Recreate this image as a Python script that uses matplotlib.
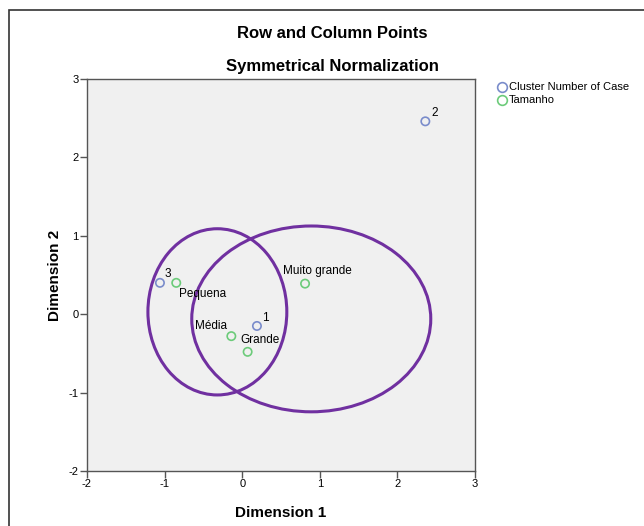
import matplotlib
matplotlib.use("Agg")
import matplotlib.pyplot as plt
from matplotlib.patches import Ellipse, Rectangle

# Data
cluster_labels = ["1", "2", "3"]
cluster_x = [0.19, 2.36, -1.06]
cluster_y = [-0.15, 2.46, 0.40]

size_labels = ["Pequena", "Média", "Grande", "Muito grande"]
size_x = [-0.85, -0.14, 0.07, 0.81]
size_y = [0.40, -0.28, -0.48, 0.39]

# ellipses: center x, center y, width, height
ell_cx = [-0.32, 0.89]
ell_cy = [0.03, -0.06]
ell_w = [1.79, 3.08]
ell_h = [2.12, 2.37]

xticks = [-2, -1, 0, 1, 2, 3]
yticks = [-2, -1, 0, 1, 2, 3]

plt.rcParams['font.family'] = ['Liberation Sans', 'DejaVu Sans']
plt.rcParams['axes.unicode_minus'] = False

W, H = 644, 526
fig = plt.figure(figsize=(W/100, H/100), dpi=100)
ax = fig.add_axes([87/W, (H-471)/H, (475-87)/W, (471-79)/H])
ax.set_facecolor('#F0F0F0')
ax.set_xlim(-2, 3)
ax.set_ylim(-2, 3)
ax.set_xticks(xticks)
ax.set_yticks(yticks)
ax.tick_params(direction='out', length=5, width=1, labelsize=8, color='#555555', pad=1)
for s in ax.spines.values():
    s.set_color('#555555')
    s.set_linewidth(1)

blue = '#7A8CCB'
green = '#6CCB7A'
ax.scatter(cluster_x, cluster_y, s=36, facecolors='none', edgecolors=blue, linewidths=1.2, zorder=3)
ax.scatter(size_x, size_y, s=36, facecolors='none', edgecolors=green, linewidths=1.2, zorder=3)

for cx, cy, w, h in zip(ell_cx, ell_cy, ell_w, ell_h):
    ax.add_patch(Ellipse((cx, cy), w, h, fill=False, edgecolor='#7030A0', linewidth=2.2, zorder=2))

num_offsets = {"1": (5, 8), "2": (6, 8), "3": (5, 9)}
for lab, x, y in zip(cluster_labels, cluster_x, cluster_y):
    ax.annotate(lab, (x, y), xytext=num_offsets[lab], textcoords='offset pixels',
                ha='left', va='center', fontsize=8.5)

size_off = {"Pequena": ((3, -11), 'left'), "Média": ((-4, 10), 'right'),
            "Grande": ((12, 12), 'center'), "Muito grande": ((12, 13), 'center')}
for lab, x, y in zip(size_labels, size_x, size_y):
    off, ha = size_off[lab]
    ax.annotate(lab, (x, y), xytext=off, textcoords='offset pixels',
                ha=ha, va='center', fontsize=8.5)

ax.set_xlabel('Dimension 1', fontsize=11, fontweight='bold', labelpad=12)
ax.set_ylabel('Dimension 2', fontsize=11, fontweight='bold', labelpad=5)

fig.text(332/W, 1-34/H, 'Row and Column Points', ha='center', va='center', fontsize=12, fontweight='bold')
fig.text(332/W, 1-66/H, 'Symmetrical Normalization', ha='center', va='center', fontsize=12, fontweight='bold')

# legend
fig.lines.append(plt.Line2D([502/W], [1-87/H], marker='o', markersize=7, markerfacecolor='none',
                            markeredgecolor=blue, markeredgewidth=1.2, transform=fig.transFigure))
fig.lines.append(plt.Line2D([502/W], [1-100/H], marker='o', markersize=7, markerfacecolor='none',
                            markeredgecolor=green, markeredgewidth=1.2, transform=fig.transFigure))
fig.text(509/W, 1-87/H, 'Cluster Number of Case', ha='left', va='center', fontsize=8)
fig.text(509/W, 1-100/H, 'Tamanho', ha='left', va='center', fontsize=8)

# outer frame
fig.patches.append(Rectangle((9/W, -0.05), 1.1, 1.05 - 10/H, transform=fig.transFigure,
                             fill=False, edgecolor='#333333', linewidth=1.2))

fig.savefig('out.png', dpi=100)
